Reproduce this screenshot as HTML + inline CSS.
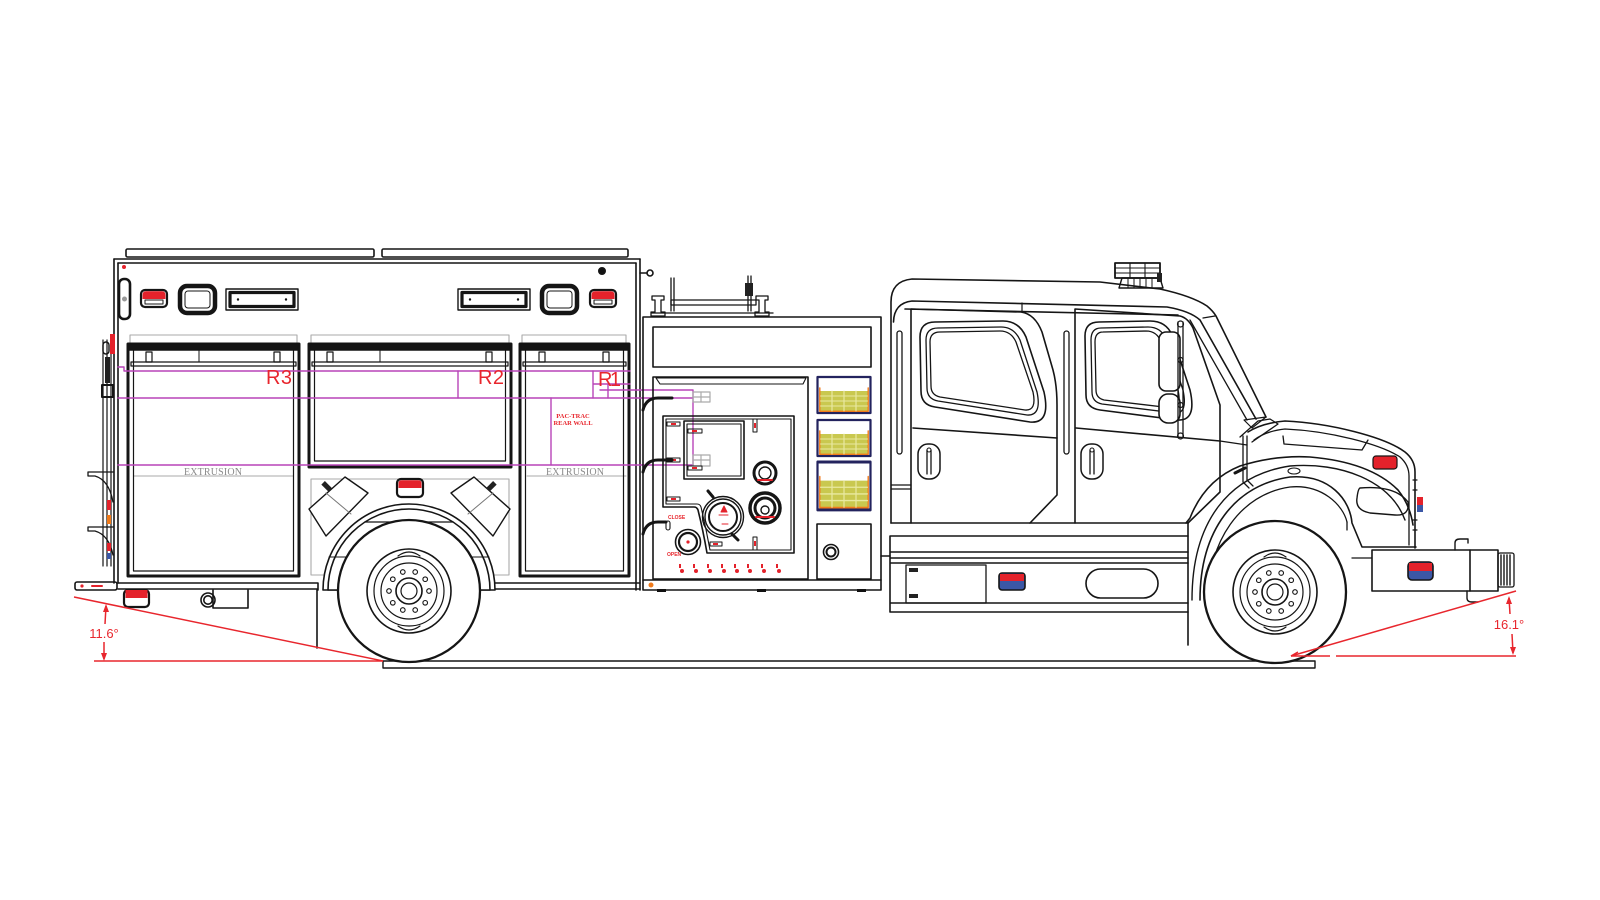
<!DOCTYPE html>
<html><head><meta charset="utf-8"><style>
html,body{margin:0;padding:0;background:#fff;}
svg{display:block;}
</style></head><body>
<svg xmlns="http://www.w3.org/2000/svg" width="1600" height="900" viewBox="0 0 1600 900">
<defs>
<g id="wheel">
 <circle r="71" stroke-width="2.3" fill="#fff"/>
 <circle r="42"/>
 <circle r="35" stroke-width="1.2"/>
 <circle r="28" stroke-width="1.2"/>
 <circle r="13"/>
 <circle r="8" stroke-width="1.2"/>
 <g stroke-width="1.1">
 <circle cx="20" cy="0" r="2.3"/><circle cx="16.2" cy="11.8" r="2.3"/><circle cx="6.2" cy="19" r="2.3"/>
 <circle cx="-6.2" cy="19" r="2.3"/><circle cx="-16.2" cy="11.8" r="2.3"/><circle cx="-20" cy="0" r="2.3"/>
 <circle cx="-16.2" cy="-11.8" r="2.3"/><circle cx="-6.2" cy="-19" r="2.3"/><circle cx="6.2" cy="-19" r="2.3"/>
 <circle cx="16.2" cy="-11.8" r="2.3"/>
 </g>
 <path d="M-11 -35 Q0 -43 11 -35 M-11 35 Q0 43 11 35" stroke-width="1.2"/>
</g>
<g id="rlight">
 <rect x="0" y="0" width="26" height="17" rx="4" fill="#fff" stroke-width="2.2"/>
 <path d="M1.5 9 V5 Q1.5 1.2 5 1.2 H21 Q24.5 1.2 24.5 5 V9 Z" fill="#e4222b" stroke="none"/>
 <path d="M4 10 H22 V14 H4 Z" stroke-width="1"/>
</g>
<g id="sqlight">
 <rect x="0" y="0" width="35" height="27" rx="7" stroke-width="4.5"/>
 <rect x="5" y="5" width="25" height="17" rx="3" stroke-width="1"/>
</g>
<g id="vent">
 <rect x="0" y="0" width="72" height="21" stroke-width="1.4"/>
 <rect x="4" y="3.5" width="64" height="14" stroke-width="3.2"/>
 <circle cx="12" cy="10.5" r="1.2" fill="#111" stroke="none"/><circle cx="60" cy="10.5" r="1.2" fill="#111" stroke="none"/>
</g>
<g id="ybox">
 <rect x="0" y="0" width="53" height="36" fill="#fff" stroke="#23235e" stroke-width="2.2"/>
 <rect x="3" y="14" width="47" height="20" fill="#c9c84f" stroke="none"/>
 <path d="M2.3 11 V34.3 H50.7 V11" stroke="#f07a1a" stroke-width="1.4"/>
 <path d="M14.5 14 V34 M26.5 14 V34 M38.5 14 V34" stroke="#eeeeb0" stroke-width="1"/>
 <path d="M3 19 H50 M3 24 H50 M3 29 H50" stroke="#e9e9a0" stroke-width="1"/>
</g>
<g id="handle">
 <rect x="0" y="0" width="22" height="35" rx="10" stroke-width="1.5"/>
 <path d="M9 6 V30 M13 6 V30" stroke-width="1.3"/>
 <circle cx="11" cy="6" r="2" stroke-width="1"/>
</g>
</defs>

<rect width="1600" height="900" fill="#fff"/>

<g fill="none" stroke="#151515" stroke-width="1.6" stroke-linecap="round" stroke-linejoin="round">

<!-- ===== GROUND ===== -->
<rect x="383" y="661" width="932" height="7" stroke-width="1.4"/>

<!-- ===== REAR BODY ===== -->
<rect x="126" y="249" width="248" height="8" rx="1.5"/>
<rect x="382" y="249" width="246" height="8" rx="1.5"/>
<path d="M114 259 H640 M118 263 H636"/>
<path d="M114 259 V583 M118 263 V583"/>
<path d="M636 263 V590 M640 259 V590"/>
<path d="M640 273 H647"/><circle cx="650" cy="273" r="3"/>
<circle cx="602" cy="271" r="3.2" fill="#111"/>
<circle cx="124" cy="267" r="2" fill="#e4222b" stroke="none"/>
<!-- grab slot -->
<rect x="119" y="279" width="11" height="40" rx="5" stroke-width="2.6"/>
<circle cx="124.5" cy="299" r="2.5" fill="#999" stroke="none"/>
<!-- upper lights -->
<use href="#rlight" x="141" y="290"/>
<use href="#sqlight" x="180" y="286"/>
<use href="#vent" x="226" y="289"/>
<use href="#vent" x="458" y="289"/>
<use href="#sqlight" x="542" y="286"/>
<use href="#rlight" x="590" y="290"/>

<!-- gray dimension brackets -->
<g stroke="#aaa" stroke-width="1.1">
 <path d="M130 344 V335 H297 V344"/>
 <path d="M311 344 V335 H509 V344"/>
 <path d="M522 344 V335 H626 V344"/>
 <rect x="311" y="479" width="198" height="96"/>
 <path d="M134 476 H293 M527 476 H626"/>
</g>

<!-- door L1 -->
<rect x="128" y="344" width="171" height="232" stroke-width="3"/>
<path d="M133.5 350 V571 H293.5 V350" stroke-width="1.2"/>
<rect x="129" y="344" width="169" height="6" fill="#151515"/>
<rect x="131" y="362" width="165" height="4" stroke-width="1.2"/>
<rect x="146" y="352" width="6" height="10" stroke-width="1.2"/>
<rect x="274" y="352" width="6" height="10" stroke-width="1.2"/>
<path d="M199 350 V362" stroke-width="1"/>
<!-- door L2 -->
<rect x="309" y="344" width="202" height="123" stroke-width="3"/>
<path d="M314.5 350 V461 H505.5 V350" stroke-width="1.2"/>
<rect x="310" y="344" width="200" height="6" fill="#151515"/>
<rect x="312" y="362" width="196" height="4" stroke-width="1.2"/>
<rect x="327" y="352" width="6" height="10" stroke-width="1.2"/>
<rect x="486" y="352" width="6" height="10" stroke-width="1.2"/>
<path d="M380 350 V362" stroke-width="1"/>
<!-- door L3 -->
<rect x="520" y="344" width="109" height="232" stroke-width="3"/>
<path d="M525.5 350 V571 H623.5 V350" stroke-width="1.2"/>
<rect x="521" y="344" width="107" height="6" fill="#151515"/>
<rect x="523" y="362" width="103" height="4" stroke-width="1.2"/>
<rect x="539" y="352" width="6" height="10" stroke-width="1.2"/>
<rect x="603" y="352" width="6" height="10" stroke-width="1.2"/>

<!-- magenta lines -->
<g stroke="#b844b8" stroke-width="1.4">
 <path d="M118 367 H124 V371 H630"/>
 <path d="M118 398 H693"/>
 <path d="M118 465 H693"/>
 <path d="M600 390 H693 V465"/>
 <path d="M458 371 V398"/>
 <path d="M551 398 V465"/>
 <path d="M593 371 V398 M593 384 H630 M608 384 V398"/>
</g>

<!-- lower diamonds -->
<path d="M309 509 L345 477 L368 493 L326 536 Z" fill="#fff" stroke-width="1.4"/>
<path d="M326 493 L351 514" stroke-width="1" stroke="#777"/>
<rect x="322" y="484" width="10" height="5" fill="#222" stroke="none" transform="rotate(45 327 486)"/>
<path d="M510 509 L474 477 L451 493 L493 536 Z" fill="#fff" stroke-width="1.4"/>
<path d="M493 493 L468 514" stroke-width="1" stroke="#777"/>
<rect x="486" y="484" width="10" height="5" fill="#222" stroke="none" transform="rotate(-45 491 486)"/>
<!-- red light center -->
<rect x="397" y="479" width="26" height="18" rx="4" fill="#fff" stroke-width="2.2"/>
<path d="M398.5 488 V483 Q398.5 480.2 402 480.2 H418 Q421.5 480.2 421.5 483 V488 Z" fill="#e4222b" stroke="none"/>

<!-- sill -->
<path d="M118 583 H318 V590 M118 589 H318"/>
<path d="M495 583 H640 M495 589 H640"/>
<path d="M317 590 V648"/>
<!-- rear fender -->
<path d="M323 590 A86 86 0 0 1 495 590 Z" fill="#fff"/>
<path d="M328 590 A81 81 0 0 1 490 590 Z" fill="#fff"/>
<path d="M365 522 H453" stroke-width="1.2"/>
<path d="M329 557 H346 M472 557 H489" stroke-width="1.1"/>
<use href="#wheel" x="409" y="591"/>

<!-- rear bottom parts -->
<rect x="75" y="582" width="42" height="8" rx="2"/>
<circle cx="82" cy="586" r="1.6" fill="#e4222b" stroke="none"/>
<path d="M92 586 H102" stroke="#e4222b" stroke-width="2"/>
<rect x="124" y="590" width="25" height="17" rx="4" fill="#fff" stroke-width="2.2"/>
<path d="M125.5 598 V590 H147.5 V598 Z" fill="#e4222b" stroke="none"/>
<path d="M213 590 V608 H248 V590"/>
<circle cx="208" cy="600" r="7"/><circle cx="208" cy="600" r="4.2"/>

<!-- rear ladder -->
<path d="M103 340 V566 M107 340 V566 M111 340 V566" stroke-width="1.2"/>
<path d="M88 472 H113 M88 472 V476 H95 Q109 480 113 502" stroke-width="1.3"/>
<path d="M88 527 H113 M88 527 V531 H95 Q109 535 113 555" stroke-width="1.3"/>
<rect x="110" y="334" width="5" height="20" fill="#e4222b" stroke="none"/>
<rect x="103" y="342" width="6" height="12" rx="3" stroke-width="1.4"/>
<rect x="105" y="357" width="5" height="26" fill="#222" stroke="none"/>
<rect x="102" y="385" width="11" height="12" stroke-width="2"/>
<rect x="107" y="500" width="4" height="10" fill="#e4222b" stroke="none"/>
<rect x="107" y="515" width="4" height="9" fill="#f07a1a" stroke="none"/>
<rect x="107" y="543" width="4" height="8" fill="#e4222b" stroke="none"/>
<rect x="107" y="553" width="4" height="6" fill="#3b57a6" stroke="none"/>

<!-- ===== PUMP PANEL ===== -->
<path d="M671 278 V311 M674 278 V311 M748 276 V311 M751 276 V311" stroke-width="1.3"/>
<rect x="671" y="300" width="85" height="5" stroke-width="1.3"/>
<path d="M652 313 H773" stroke-width="1.3"/>
<path d="M652 296 H664 V300 H661 V312 H665 V316 H651 V312 H655 V300 H652 Z" stroke-width="1.3"/>
<path d="M756 296 H768 V300 H765 V312 H769 V316 H755 V312 H759 V300 H756 Z" stroke-width="1.3"/>
<rect x="745" y="283" width="8" height="13" fill="#222" stroke="none"/>

<rect x="643" y="317" width="238" height="273"/>
<path d="M643 580 H881"/>
<rect x="653" y="327" width="218" height="40"/>
<rect x="653" y="377" width="155" height="202"/>
<path d="M656 378 H806 L803 384 H660 Z" stroke-width="1.1"/>
<!-- stepped control panel -->
<path d="M663 416 H794 V553 H707 Q703 530 698 510 Q697 507 694 507 H663 Z"/>
<path d="M666 419 H791 V550 H710 Q706 528 701 507 Q700 504 697 504 H666 Z" stroke-width="1.1"/>
<rect x="684" y="421" width="60" height="58"/>
<rect x="687" y="424" width="54" height="52" stroke-width="1.1"/>
<!-- gray items -->
<g stroke="#aaa" stroke-width="1.2">
 <rect x="693" y="392" width="17" height="10"/><path d="M693 397 H710 M701 392 V402"/>
 <rect x="693" y="455" width="17" height="11"/><path d="M693 460 H710 M701 455 V466"/>
</g>
<!-- small labels -->
<g stroke-width="1">
 <rect x="667" y="422" width="13" height="4"/><rect x="688" y="429" width="14" height="4"/>
 <rect x="753" y="419" width="4" height="13"/><rect x="667" y="458" width="13" height="4"/>
 <rect x="688" y="466" width="14" height="4"/><rect x="667" y="497" width="13" height="4"/>
 <rect x="710" y="542" width="12" height="4"/><rect x="753" y="537" width="4" height="13"/>
</g>
<g fill="#e4222b" stroke="none">
 <rect x="671" y="423" width="5" height="2"/><rect x="692" y="430" width="5" height="2"/>
 <rect x="754" y="423" width="2" height="5"/><rect x="671" y="459" width="5" height="2"/>
 <rect x="692" y="467" width="5" height="2"/><rect x="671" y="498" width="5" height="2"/>
 <rect x="713" y="543" width="5" height="2"/><rect x="754" y="541" width="2" height="5"/>
</g>
<!-- levers -->
<path d="M643 410 Q646 398 658 398 H672" stroke-width="3"/>
<path d="M643 472 Q646 460 658 460 H672" stroke-width="3"/>
<path d="M643 534 Q646 522 658 522 H666" stroke-width="3"/>
<rect x="666" y="521" width="4" height="9" rx="2" stroke-width="1.1"/>
<!-- gauges -->
<circle cx="723" cy="517" r="20.5" stroke-width="1.4"/>
<circle cx="723" cy="517" r="18" stroke-width="1.4"/>
<circle cx="723" cy="517" r="14" stroke-width="2"/>
<path d="M713 497 L708 491 M732 534 L738 540" stroke-width="3"/>
<path d="M721 512 L724 506 L727 512 Z M719 515 H728 M722 524 H728" fill="#e4222b" stroke="#e4222b" stroke-width="1"/>
<circle cx="765" cy="473" r="11" stroke-width="3"/>
<circle cx="765" cy="473" r="6" stroke-width="1.4"/>
<path d="M758 480 H772" stroke="#e4222b" stroke-width="2"/>
<circle cx="765" cy="508" r="15" stroke-width="3.5"/>
<circle cx="765" cy="508" r="10" stroke-width="3"/>
<circle cx="765" cy="510" r="4" stroke-width="1.4"/>
<path d="M756 517 H774" stroke="#e4222b" stroke-width="2"/>
<circle cx="688" cy="542" r="12.5" stroke-width="1.6"/>
<circle cx="688" cy="542" r="9" stroke-width="2.2"/>
<circle cx="688" cy="542" r="1.6" fill="#e4222b" stroke="none"/>
<!-- red row -->
<g fill="#e4222b" stroke="none">
 <rect x="679" y="564" width="2" height="4"/><circle cx="682" cy="571" r="2"/>
 <rect x="693" y="564" width="2" height="4"/><circle cx="696" cy="571" r="2"/>
 <rect x="707" y="564" width="2" height="4"/><circle cx="710" cy="571" r="2"/>
 <rect x="721" y="564" width="2" height="4"/><circle cx="724" cy="571" r="2"/>
 <rect x="734" y="564" width="2" height="4"/><circle cx="737" cy="571" r="2"/>
 <rect x="747" y="564" width="2" height="4"/><circle cx="750" cy="571" r="2"/>
 <rect x="761" y="564" width="2" height="4"/><circle cx="764" cy="571" r="2"/>
 <rect x="776" y="564" width="2" height="4"/><circle cx="779" cy="571" r="2"/>
</g>
<circle cx="651" cy="585" r="2.5" fill="#f07a1a" stroke="none"/>
<rect x="657" y="589" width="9" height="3" fill="#111" stroke="none"/>
<rect x="757" y="589" width="9" height="3" fill="#111" stroke="none"/>
<rect x="857" y="589" width="9" height="3" fill="#111" stroke="none"/>
<!-- yellow boxes -->
<use href="#ybox" x="817.5" y="377"/>
<use href="#ybox" x="817.5" y="420"/>
<g transform="translate(817.5 462) scale(1 1.33)"><use href="#ybox" stroke-width="1.6"/></g>
<rect x="817" y="524" width="54" height="55"/>
<circle cx="831" cy="552" r="7.5" stroke-width="1.6"/>
<circle cx="831" cy="552" r="4.5" stroke-width="2"/>

<!-- ===== CAB ===== -->
<path d="M881 556 H890"/>
<!-- outer cab -->
<path d="M891 523 V302 Q891 281 912 279 L1100 282 L1160 289 Q1192 296 1207 306 Q1213 311 1216 316 L1266 417"/>
<path d="M893.5 322 Q894 303 912 301 L1167 307 Q1190 311 1200 320 L1256 419"/>
<path d="M905 309 L1178 315"/>
<path d="M1203 318 L1215 316" stroke-width="1.3"/>
<path d="M1244 420 L1266 417 L1252 428 Z" stroke-width="1.2"/>
<!-- light bar -->
<rect x="1115" y="263" width="45" height="15" stroke-width="1.8"/>
<path d="M1115 268 H1160 M1115 273 H1160 M1130 263 V278 M1145 263 V278" stroke-width="1.1"/>
<path d="M1122 278 H1160 L1163 288 H1119 Z" stroke-width="1.4"/>
<path d="M1128 279 V288 M1134 279 V288 M1140 279 V288 M1146 279 V288 M1152 279 V288" stroke-width="1"/>
<rect x="1157" y="273" width="5" height="9" fill="#222" stroke="none"/>
<!-- rear pillar -->
<rect x="897" y="331" width="5" height="123" rx="2.5" stroke-width="1.3"/>
<path d="M891 485 H911 M891 489 H911" stroke-width="1.2"/>
<!-- door 1 -->
<path d="M911 523 V309 L1021 312 Q1035 314 1042 332 L1053 370 Q1057 385 1057 405 V495 L1030 523"/>
<path d="M1022 303 V312" stroke-width="1.2"/>
<path d="M913 428 L1057 438"/>
<!-- window 1 -->
<path d="M935 322 L1003 321 Q1019 321 1026 337 L1044 392 Q1051 424 1030 422 L935 407 Q921 405 921 391 L920 337 Q920 322 935 322 Z"/>
<path d="M938 328 L1001 327 Q1014 327 1020 340 L1037 392 Q1042 416 1027 415 L938 401 Q927 399 927 388 L926 340 Q926 328 938 328 Z" stroke-width="1.3"/>
<path d="M940 332 L1000 331 Q1011 331 1016 342 L1033 392 Q1037 411 1025 410 L940 397 Q931 395 931 386 L930 342 Q930 332 940 332 Z" stroke-width="1.3"/>
<use href="#handle" x="918" y="444"/>
<!-- door 2 -->
<rect x="1064" y="331" width="5" height="123" rx="2.5" stroke-width="1.3"/>
<path d="M1075 523 V309 L1180 316 Q1188 318 1193 328 L1220 405 V492 L1188 523"/>
<path d="M1076 428 L1220 441"/>
<path d="M891 523 H1188"/>
<!-- window 2 -->
<path d="M1099 322 L1150 321 Q1166 321 1172 335 L1190 390 Q1197 421 1178 420 L1100 410 Q1086 408 1086 395 L1085 336 Q1085 322 1099 322 Z"/>
<path d="M1101 328 L1148 327 Q1161 327 1166 339 L1183 390 Q1188 414 1175 413 L1102 404 Q1092 402 1092 392 L1091 340 Q1091 328 1101 328 Z" stroke-width="1.3"/>
<path d="M1103 332 L1146 331 Q1157 331 1161 342 L1178 390 Q1182 409 1172 408 L1104 400 Q1096 398 1096 390 L1095 342 Q1095 332 1103 332 Z" stroke-width="1.3"/>
<use href="#handle" x="1081" y="444"/>
<!-- mirror -->
<rect x="1159" y="332" width="21" height="59" rx="7" fill="#fff"/>
<rect x="1159" y="394" width="21" height="29" rx="9" fill="#fff"/>
<path d="M1178 322 V437 M1183 322 V437" stroke-width="1.3"/>
<circle cx="1180.5" cy="324" r="3" stroke-width="1.2"/>
<circle cx="1180.5" cy="436" r="3" stroke-width="1.2"/>
<circle cx="1180.5" cy="360" r="2.5" stroke-width="1.2"/>
<circle cx="1180.5" cy="405" r="2.5" stroke-width="1.2"/>
<!-- a-pillar inner -->
<path d="M1190 320 L1247 420" stroke-width="1.3"/>
<!-- cowl / hood -->
<path d="M1240 437 L1258 421 L1270 419 L1278 424 L1252 442" stroke-width="1.3"/>
<path d="M1220 441 L1247 445" stroke-width="1.3"/>
<path d="M1248 432 Q1262 423 1285 421 C1330 423 1385 437 1405 452 Q1415 460 1415 472 V548"/>
<path d="M1254 440 Q1266 431 1285 429 C1330 431 1380 444 1400 457 Q1409 465 1409 476 V545" stroke-width="1.3"/>
<path d="M1283 436 L1284 444 L1362 450 L1368 440" stroke-width="1.3"/>
<path d="M1243 436 V482 L1249 488 M1247 436 V480 L1253 486" stroke-width="1.3"/>
<rect x="1373" y="456" width="24" height="13" rx="3" fill="#e4222b" stroke-width="1.2"/>
<rect x="1417" y="497" width="6" height="8" fill="#e4222b" stroke="none"/>
<rect x="1417" y="505" width="6" height="7" fill="#3b57a6" stroke="none"/>
<path d="M1413 480 H1417 M1413 490 H1417 M1413 520 H1417 M1413 530 H1417" stroke-width="1.2"/>
<!-- fender -->
<path d="M1186 523 L1190 518 Q1205 480 1240 466 Q1275 455 1310 457 Q1370 462 1398 490 Q1410 505 1413 525"/>
<path d="M1192 600 C1192 520 1230 475 1290 466 C1340 462 1390 480 1405 520" stroke-width="1.4"/>
<path d="M1200 600 C1200 530 1235 485 1290 477 C1330 474 1350 500 1352 523 L1362 547 H1416" />
<path d="M1208 600 C1208 542 1240 494 1290 487 C1322 484 1343 505 1347 522" stroke-width="1.3"/>
<ellipse cx="1294" cy="471" rx="6" ry="3" stroke-width="1.1"/>
<path d="M1360 488 Q1395 485 1408 502 Q1410 516 1395 515 L1370 513 Q1355 510 1357 498 Q1358 489 1360 488 Z" stroke-width="1.4"/>
<path d="M1235 473 L1245 468" stroke-width="3"/>
<!-- step box -->
<path d="M890 536 H1188 M890 552 H1188 M890 558 H1188 M890 563 H1188 M890 603 H1188 M890 612 H1188 M890 536 V612"/>
<path d="M1188 523 V645"/>
<rect x="906" y="565" width="80" height="38" stroke-width="1.3"/>
<rect x="909" y="568" width="9" height="4" fill="#222" stroke="none"/>
<rect x="909" y="594" width="9" height="4" fill="#222" stroke="none"/>
<rect x="999" y="573" width="26" height="17" rx="3" fill="#3b57a6" stroke-width="1.6"/>
<path d="M1000 574 H1024 V581 H1000 Z" fill="#e4222b" stroke="none"/>
<rect x="1086" y="569" width="72" height="29" rx="14.5"/>
<!-- frame to bumper -->
<path d="M1347 522 V530 M1352 558 H1372" stroke-width="1.3"/>
<!-- front bumper -->
<rect x="1372" y="550" width="126" height="41"/>
<path d="M1470 550 V591"/>
<rect x="1408" y="562" width="25" height="18" rx="4" fill="#3b57a6" stroke-width="1.6"/>
<path d="M1409 563 H1432 V571 H1409 Z" fill="#e4222b" stroke="none"/>
<rect x="1498" y="553" width="16" height="34" rx="2" stroke-width="1.3"/>
<path d="M1501 555 V585 M1504 555 V585 M1507 555 V585 M1510 555 V585" stroke-width="1.4"/>
<path d="M1455 550 V543 Q1455 539 1460 539 H1468 V543" stroke-width="1.4"/>
<path d="M1467 591 V598 Q1467 602 1472 602 H1478" stroke-width="1.4"/>
<use href="#wheel" x="1275" y="592"/>
</g>

<!-- ===== RED DIMENSIONS ===== -->
<g stroke="#e8262d" stroke-width="1.5" fill="none">
 <path d="M74 597 L383 661"/>
 <path d="M94 661 H383"/>
 <path d="M106 606 L105 624 M104 642 L104 659"/>
 <path d="M1291 656 L1516 591"/>
 <path d="M1291 656 H1330 M1336 656 H1516"/>
 <path d="M1509 598 L1510 614 M1512 634 L1513 653"/>
 <path d="M1291 656 L1298 652" />
</g>
<g fill="#e8262d" stroke="none">
 <path d="M106 604 L103 612 L109 612 Z"/>
 <path d="M104 661 L101 653 L107 653 Z"/>
 <path d="M1509 596 L1506 604 L1512 604 Z"/>
 <path d="M1513 655 L1510 647 L1516 647 Z"/>
</g>

<!-- ===== TEXT ===== -->
<g font-family="Liberation Sans, sans-serif" fill="#e8262d">
 <text x="266" y="384" font-size="20" textLength="26">R3</text>
 <text x="478" y="384" font-size="20" textLength="26">R2</text>
 <text x="598" y="386" font-size="20" textLength="23">R1</text>
 <text x="104" y="638" font-size="13" text-anchor="middle">11.6°</text>
 <text x="1509" y="629" font-size="13" text-anchor="middle">16.1°</text>
 <text x="668" y="519" font-size="5" font-weight="bold">CLOSE</text>
 <text x="667" y="556" font-size="5" font-weight="bold">OPEN</text>
</g>
<g font-family="Liberation Serif, serif" fill="#e8262d" font-weight="bold" font-size="6.5" text-anchor="middle">
 <text x="573" y="418">PAC-TRAC</text>
 <text x="573" y="425">REAR WALL</text>
</g>
<g font-family="Liberation Serif, serif" fill="#8a8a8a" font-size="10" text-anchor="middle">
 <text x="213" y="475" textLength="58">EXTRUSION</text>
 <text x="575" y="475" textLength="58">EXTRUSION</text>
</g>
</svg>
</body></html>
